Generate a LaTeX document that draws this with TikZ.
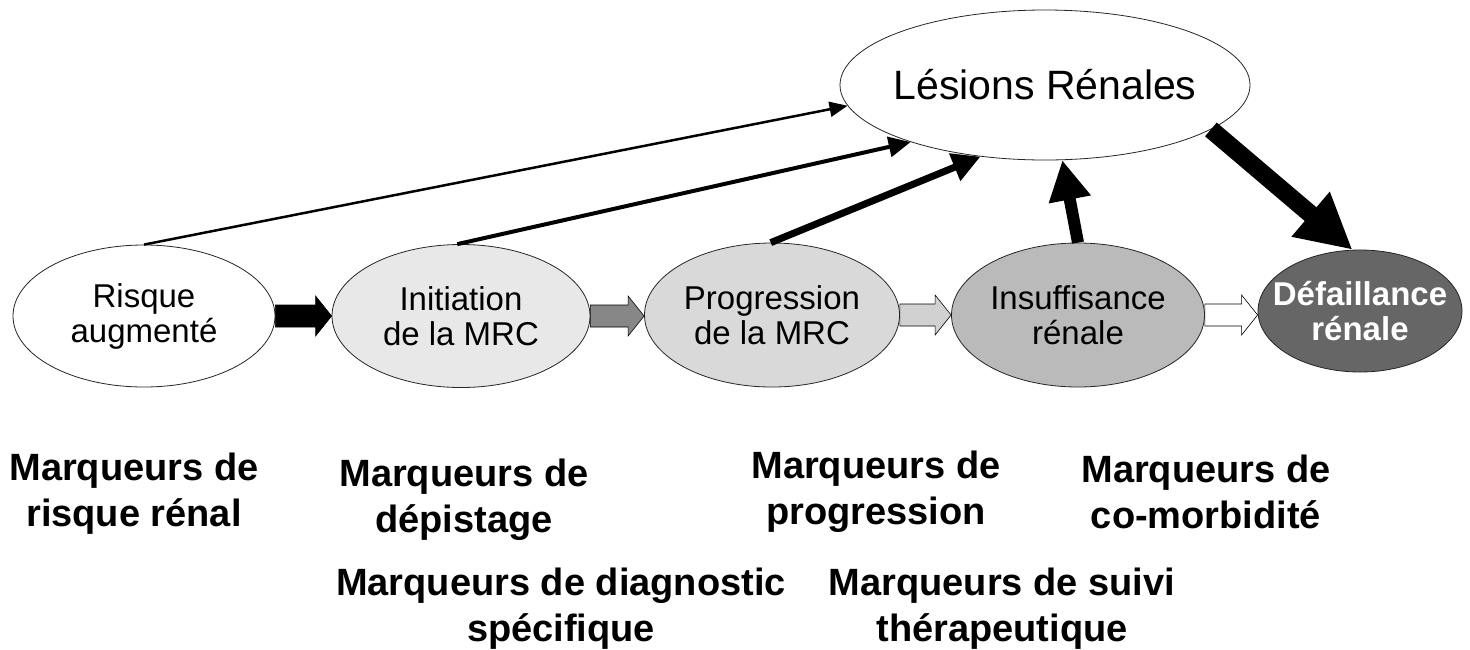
\documentclass[tikz,border=0pt]{standalone}
\usepackage{fontspec}
\setmainfont{Liberation Sans}
\usetikzlibrary{shapes.geometric,arrows.meta,calc}
\newcommand\blockarr[3]{\draw[#3] let \p1=(#1), \p2=(#2) in
  (\x1,\y1+11pt) -- (\x2-16pt,\y1+11pt) -- (\x2-16pt,\y1+20pt) -- (\x2,\y1)
  -- (\x2-16pt,\y1-20pt) -- (\x2-16pt,\y1-11pt) -- (\x1,\y1-11pt) -- cycle;}
\tikzset{
  stage/.style={ellipse,draw=black!85,line width=0.8pt,inner sep=0pt,align=center,
    font=\fontsize{33}{35}\selectfont},
  marq/.style={align=center,font=\fontsize{38}{46}\selectfont\bfseries},
  link/.style={draw=black,line cap=butt},
}
\begin{document}
\begin{tikzpicture}[x=1pt,y=-1pt]
\useasboundingbox[fill=white] (0,0) rectangle (1470,649);
\node[stage,minimum width=262pt,minimum height=142pt] (r) at (144,316) {Risque\\augmenté};
\node[stage,fill=black!9,minimum width=258pt,minimum height=143pt] (i) at (461,316) {Initiation\\de la MRC};
\node[stage,fill=black!15,minimum width=255pt,minimum height=144pt] (p) at (772,315) {Progression\\de la MRC};
\node[stage,fill=black!27,minimum width=253pt,minimum height=144pt] (s) at (1078,315) {Insuffisance\\rénale};
\node[stage,fill=black!60,text=white,inner xsep=-22pt,inner ysep=-5pt,minimum width=204pt,minimum height=122pt,font=\fontsize{33}{35}\selectfont\bfseries] (d) at (1360,311) {Défaillance\\rénale};
\node[stage,inner xsep=-12pt,minimum width=410pt,minimum height=150pt,font=\fontsize{41}{46}\selectfont] (les) at (1045,85) {Lésions Rénales};

\blockarr{r.east}{i.west}{fill=black,line width=0.6pt}
\blockarr{i.east}{p.west}{fill=black!47,line width=0.6pt}
\blockarr{p.east}{s.west}{fill=black!18,line width=0.6pt}
\blockarr{s.east}{d.west}{fill=white,line width=0.6pt}

\draw[link,line width=2.5pt,-{Triangle[length=18pt,width=15pt]}] (r.north) -- (les.186);
\draw[link,line width=4pt,-{Triangle[length=22pt,width=20pt]}] (i.93) -- (les.203);
\draw[link,line width=7pt,-{Triangle[length=28pt,width=28pt]}] (p.91) -- (les.228);
\draw[link,line width=12pt,-{Triangle[length=40pt,width=40pt]}] (s.north) -- (les.283);
\draw[link,line width=18pt,-{Triangle[length=55pt,width=55pt]}] (les.345) -- (d.97);

\node[marq] (m1) at (134,494) {Marqueurs de\\risque rénal};
\node[marq] (m2) at (464,500) {Marqueurs de\\dépistage};
\node[marq] (m3) at (876,492) {Marqueurs de\\progression};
\node[marq] (m4) at (1206,492) {Marqueurs de\\co-morbidité};
\node[marq] (m5) at (561,609) {Marqueurs de diagnostic\\spécifique};
\node[marq] (m6) at (1002,609) {Marqueurs de suivi\\thérapeutique};
\end{tikzpicture}
\end{document}
